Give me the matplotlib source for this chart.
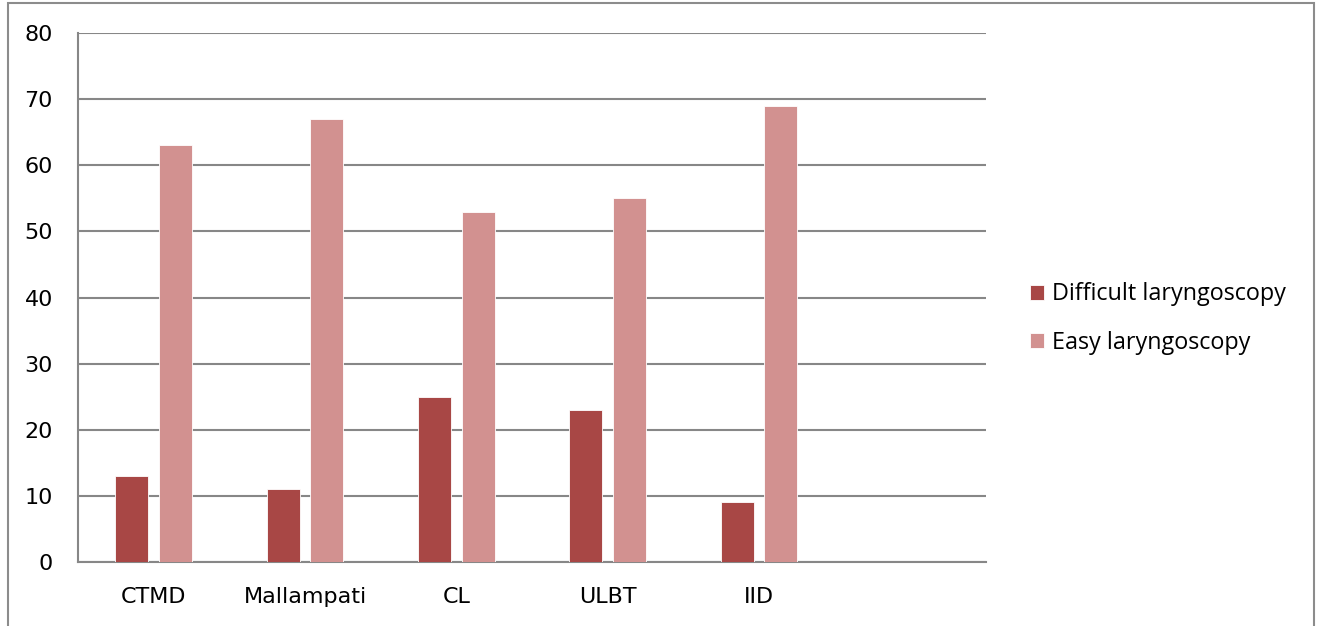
import numpy as np
import matplotlib.pyplot as plt
from matplotlib.patches import Rectangle

categories = ['CTMD', 'Mallampati', 'CL', 'ULBT', 'IID', '']
difficult = [13, 11, 25, 23, 9]
easy = [63, 67, 53, 55, 69]
series_names = ['Difficult laryngoscopy', 'Easy laryngoscopy']
colors = ['#A84745', '#D29190']

fig = plt.figure(figsize=(13.17, 6.26), dpi=100)

# outer frame around the whole chart
fig.add_artist(Rectangle((8/1317, -0.05), 1306/1317, 1.05 - 3/626, transform=fig.transFigure,
                         fill=False, edgecolor='#8c8c8c', linewidth=1.5))

ax = fig.add_axes([78/1317, 1-562/626, 908/1317, 529/626])

x = np.arange(len(difficult))
w = 0.218
off = 0.145
ax.bar(x - off, difficult, w, color=colors[0], edgecolor='white', linewidth=0.6, label=series_names[0], zorder=3)
ax.bar(x + off, easy, w, color=colors[1], edgecolor='white', linewidth=0.6, label=series_names[1], zorder=3)

ax.set_xlim(-0.5, len(categories) - 0.5)
ax.set_ylim(0, 80)
ax.set_yticks(np.arange(0, 81, 10))
ax.set_xticks(np.arange(len(categories)))
ax.set_xticklabels(categories)

ax.grid(axis='y', color='#878787', linewidth=1.5, zorder=0)
ax.set_axisbelow(True)
for s in ['top', 'right']:
    ax.spines[s].set_visible(False)
for s in ['left', 'bottom']:
    ax.spines[s].set_color('#878787')
    ax.spines[s].set_linewidth(1.5)

ax.tick_params(axis='y', length=0, pad=18, labelsize=16)
ax.tick_params(axis='x', length=0, pad=18, labelsize=16)

ax.legend(loc='center left', bbox_to_anchor=(1.025, 0.46), frameon=False,
          prop={'family': 'Open Sans', 'size': 16.8}, handlelength=0.6, handleheight=0.6,
          handletextpad=0.35, labelspacing=1.05)

plt.savefig('out.png', dpi=100)
